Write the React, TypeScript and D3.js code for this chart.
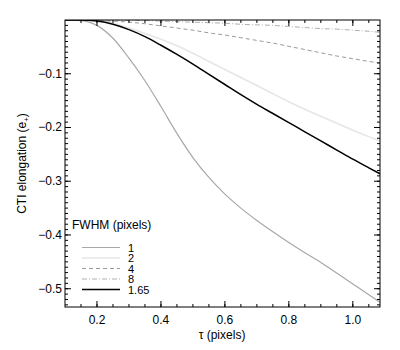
import React from "react";
import * as d3 from "d3";

// tau sampled along the x axis (pixels)
const tau = [0.10, 0.15, 0.20, 0.25, 0.30, 0.35, 0.40, 0.45, 0.50, 0.55, 0.60, 0.65, 0.70, 0.75, 0.80, 0.85, 0.90, 0.95, 1.00, 1.05, 1.085];

// CTI elongation per FWHM
const fwhm1 = [0, -0.001, -0.010, -0.034, -0.071, -0.113, -0.161, -0.211, -0.256, -0.293, -0.324, -0.350, -0.373, -0.394, -0.414, -0.433, -0.451, -0.471, -0.491, -0.511, -0.525];
const fwhm2 = [0, 0, -0.001, -0.006, -0.015, -0.025, -0.036, -0.048, -0.062, -0.077, -0.092, -0.107, -0.122, -0.137, -0.152, -0.166, -0.179, -0.192, -0.205, -0.217, -0.225];
const fwhm4 = [0, 0, -0.001, -0.002, -0.004, -0.007, -0.011, -0.015, -0.019, -0.024, -0.028, -0.033, -0.038, -0.043, -0.049, -0.055, -0.061, -0.067, -0.072, -0.077, -0.080];
const fwhm8 = [0, 0, 0, 0, -0.001, -0.001, -0.002, -0.003, -0.004, -0.005, -0.006, -0.008, -0.009, -0.010, -0.012, -0.014, -0.016, -0.017, -0.019, -0.021, -0.023];
const fwhm165 = [0, 0, -0.002, -0.008, -0.018, -0.031, -0.047, -0.064, -0.082, -0.101, -0.120, -0.139, -0.157, -0.174, -0.191, -0.208, -0.225, -0.242, -0.259, -0.275, -0.286];

const seriesLabels = ["1", "2", "4", "8", "1.65"];
const xTicks = [0.2, 0.4, 0.6, 0.8, 1.0];
const yTicks = [-0.1, -0.2, -0.3, -0.4, -0.5];

const styles = [
  { color: "#a8a8a8", width: 1.2, dash: "" },
  { color: "#e6e6e6", width: 1.6, dash: "" },
  { color: "#9a9a9a", width: 1, dash: "4,3" },
  { color: "#b0b0b0", width: 1, dash: "5,2,1,2" },
  { color: "#000", width: 1.5, dash: "" },
];

const font = "'Liberation Sans', Arial, sans-serif";

export default function App() {
  const width = 400, height = 350;
  const left = 65, right = 380, top = 20, bottom = 307;

  const x = d3.scaleLinear().domain([0.1, 1.085]).range([left, right]);
  const y = d3.scaleLinear().domain([-0.534, 0]).range([bottom, top]);

  const line = d3.line<number>()
    .x((d, i) => x(tau[i]))
    .y(d => y(d))
    .curve(d3.curveMonotoneX);

  const allSeries = [fwhm1, fwhm2, fwhm4, fwhm8, fwhm165];

  const xMinor = d3.range(0.15, 1.085, 0.05);
  const yMinor = d3.range(-0.53, 0, 0.01);

  return (
    <svg width={width} height={height} style={{ position: "absolute", left: 0, top: 0, background: "#fff" }}>
      <defs>
        <clipPath id="plot">
          <rect x={left} y={top} width={right - left} height={bottom - top} />
        </clipPath>
      </defs>
      <g clipPath="url(#plot)">
        {allSeries.map((s, i) => (
          <path key={i} d={line(s) || ""} fill="none" stroke={styles[i].color}
            strokeWidth={styles[i].width} strokeDasharray={styles[i].dash} />
        ))}
      </g>

      {/* frame */}
      <rect x={left} y={top} width={right - left} height={bottom - top} fill="none" stroke="#000" strokeWidth={1} />

      {/* x ticks top and bottom */}
      {xMinor.map((t, i) => (
        <g key={"xm" + i}>
          <line x1={x(t)} x2={x(t)} y1={bottom} y2={bottom - 3} stroke="#000" />
          <line x1={x(t)} x2={x(t)} y1={top} y2={top + 3} stroke="#000" />
        </g>
      ))}
      {xTicks.map(t => (
        <g key={"x" + t}>
          <line x1={x(t)} x2={x(t)} y1={bottom} y2={bottom - 6} stroke="#000" />
          <line x1={x(t)} x2={x(t)} y1={top} y2={top + 6} stroke="#000" />
          <text x={x(t)} y={bottom + 17} textAnchor="middle" fontFamily={font} fontSize={12}>{t.toFixed(1)}</text>
        </g>
      ))}

      {/* y ticks left and right */}
      {yMinor.map((t, i) => (
        <g key={"ym" + i}>
          <line x1={left} x2={left + 3} y1={y(t)} y2={y(t)} stroke="#000" />
          <line x1={right} x2={right - 3} y1={y(t)} y2={y(t)} stroke="#000" />
        </g>
      ))}
      {yTicks.map(t => (
        <g key={"y" + t}>
          <line x1={left} x2={left + 6} y1={y(t)} y2={y(t)} stroke="#000" />
          <line x1={right} x2={right - 6} y1={y(t)} y2={y(t)} stroke="#000" />
          <text x={left - 3} y={y(t) + 4} textAnchor="end" fontFamily={font} fontSize={12}>
            {"\u2212" + Math.abs(t).toFixed(1)}
          </text>
        </g>
      ))}

      {/* axis titles */}
      <text x={222} y={339} textAnchor="middle" fontFamily={font} fontSize={12}>τ  (pixels)</text>
      <text transform={`translate(26,${(top + bottom) / 2}) rotate(-90)`} textAnchor="middle" fontFamily={font} fontSize={12}>
        CTI elongation (e<tspan fontSize={8} dy={3}>+</tspan><tspan dy={-3}>)</tspan>
      </text>

      {/* legend */}
      <text x={72} y={229} fontFamily={font} fontSize={12}>FWHM (pixels)</text>
      {seriesLabels.map((lab, i) => {
        const ly = 247.5 + i * 10.5;
        return (
          <g key={lab}>
            <line x1={82} x2={120} y1={ly} y2={ly} stroke={styles[i].color}
              strokeWidth={styles[i].width} strokeDasharray={styles[i].dash} />
            <text x={128} y={ly + 4} fontFamily={font} fontSize={11}>{lab}</text>
          </g>
        );
      })}
    </svg>
  );
}
